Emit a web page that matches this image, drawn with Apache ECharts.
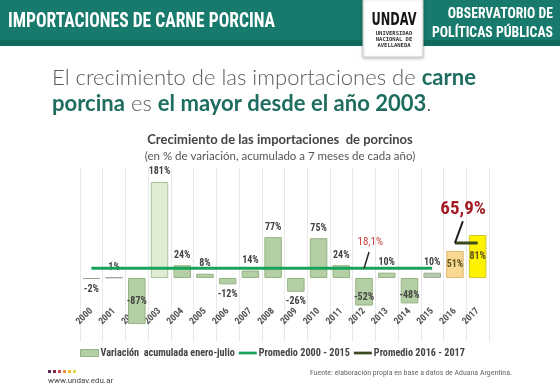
<!DOCTYPE html>
<html><head><meta charset="utf-8">
<script src="https://cdn.jsdelivr.net/npm/echarts@6/dist/echarts.min.js"></script>
<style>html,body{margin:0;padding:0;background:#fff}#c{width:560px;height:390px}</style>
</head><body><div id="c"></div>
<script>
// ---- data ----
const years = ['2000','2001','2002','2003','2004','2005','2006','2007','2008','2009','2010','2011','2012','2013','2014','2015','2016','2017'];
const variacion = [-2, 1, -87, 181, 24, 8, -12, 14, 77, -26, 75, 24, -52, 10, -48, 10, 51, 81];
const promedio2000_2015 = [18.1,18.1,18.1,18.1,18.1,18.1,18.1,18.1,18.1,18.1,18.1,18.1,18.1,18.1,18.1,18.1,null,null];
const promedio2016_2017 = [null,null,null,null,null,null,null,null,null,null,null,null,null,null,null,null,65.9,65.9];
const seriesNames = ['Variación  acumulada enero-julio', 'Promedio 2000 - 2015', 'Promedio 2016 - 2017'];
const avgLabels = ['18,1%', '65,9%'];

// ---- styling ----
const COND = "'Roboto Condensed','Liberation Sans Narrow',Roboto,sans-serif";
const cv = document.createElement('canvas').getContext('2d');
function measure(txt, font){ cv.font = font; return cv.measureText(txt).width; }
function fitScale(txt, font, target){ return target / measure(txt, font); }

const GREEN = '#17a45a', DARK = '#3a4a1e', BAR = '#b5cfa4', BAR_B = '#95b384';
function barStyle(i, v){
  const y = years[i];
  if (y === '2017') return {color:'#fff200', borderColor:'#cfc52a', borderWidth:1};
  if (y === '2016') return {color:'#f9d893', borderColor:'#dcb870', borderWidth:1};
  if (y === '2003') return {color:'#e1ecd4', borderColor:'#a8c299', borderWidth:1};
  if (y === '2000' || y === '2001') return {color:'#c9cfc5', borderColor:'#9aa394', borderWidth:1};
  if (y === '2015') return {color:'#bac8b1', borderColor:'#9fb094', borderWidth:1};
  return {color:BAR, borderColor:BAR_B, borderWidth:1};
}
function labelStyle(i, v){
  const y = years[i];
  if (y === '2016' || y === '2017') return {position:'inside', color:'#5e5219'};
  if (v >= 0) return {position:'top', distance:5};
  if (v <= -80) return {position:'inside'};
  if (v <= -40) return {position:'insideBottom', distance:3};
  return {position:'bottom', distance:5};
}

const barData = variacion.map((v, i) => ({
  value: v,
  itemStyle: barStyle(i, v),
  label: labelStyle(i, v)
}));

const chart = echarts.init(document.getElementById('c'), null, {renderer:'canvas'});

const titleFont = "bold 20px " + COND;
const titleTxt = 'IMPORTACIONES DE CARNE PORCINA';
const obsFont = "bold 14px " + COND;
const headLight = "300 22px Lato, 'Open Sans', sans-serif";
const headBold = "bold 22px Lato, 'Open Sans', sans-serif";
const l1w = measure('El crecimiento de las importaciones de ', headLight) + measure('carne', headBold);
const headScale = 424 / l1w;
const srcTxt = 'Fuente: elaboración propia en base a datos de Aduana Argentina.';
const srcFont = "7px " + COND;

const dots = ['#5b2a5e','#8a2849','#d24a55','#ef8f3a','#f4c21f','#e3d64a'];

const baseGraphics = [
  {type:'rect', id:'hdr', shape:{x:0,y:0,width:560,height:40}, style:{fill:'#177a6c'}, silent:true},
  {type:'rect', id:'hdr2', shape:{x:0,y:40,width:560,height:6}, style:{fill:'#0f6a5e'}, silent:true},
  {type:'text', id:'hdrTitle', x:8, y:22, scaleX: fitScale(titleTxt, titleFont, 267),
    style:{text:titleTxt, font:titleFont, fill:'#ffffff', verticalAlign:'middle', align:'left'}},
  {type:'text', id:'obs', x:553, y:24, scaleX: fitScale('POLÍTICAS PÚBLICAS', obsFont, 121),
    style:{text:'OBSERVATORIO DE\nPOLÍTICAS PÚBLICAS', font:obsFont, lineHeight:19, fill:'#ffffff', align:'right', verticalAlign:'middle'}},
  {type:'rect', id:'logoBox', shape:{x:363,y:-2,width:60,height:59}, style:{fill:'#ffffff', stroke:'#d0d0d0', lineWidth:1, shadowBlur:3, shadowColor:'rgba(0,0,0,0.25)', shadowOffsetY:1}},
  {type:'text', id:'logo', x:394, y:21, scaleX: 45/measure('UNDAV', "bold 17px 'DejaVu Sans'"),
    style:{text:'UNDAV', font:"bold 17px 'DejaVu Sans'", fill:'#151515', align:'center', verticalAlign:'middle'}},
  {type:'text', id:'logoSub', x:394, y:40,
    style:{text:'UNIVERSIDAD\nNACIONAL DE\nAVELLANEDA', font:"bold 5.5px 'DejaVu Sans Mono'", lineHeight:6, fill:'#333', align:'center', verticalAlign:'middle'}},
  {type:'text', id:'headline', x:52, y:91, scaleX: headScale,
    style:{text:'{l|El crecimiento de las importaciones de }{b|carne}\n{b|porcina}{l| es }{b|el mayor desde el año 2003}{l|.}',
      verticalAlign:'middle', align:'left',
      rich:{
        l:{fontFamily:"Lato, 'Open Sans', sans-serif", fontWeight:300, fontSize:22, fill:'#5a5a5a', lineHeight:26},
        b:{fontFamily:"Lato, 'Open Sans', sans-serif", fontWeight:'bold', fontSize:22, fill:'#1f6d61', lineHeight:26}
      }}},
  {type:'text', id:'www', x:48, y:381,
    style:{text:'www.undav.edu.ar', font:"8px Roboto, sans-serif", fill:'#444', align:'left', verticalAlign:'middle'}},
  {type:'text', id:'src', x:512, y:373, scaleX: fitScale(srcTxt, srcFont, 202),
    style:{text:srcTxt, font:srcFont, fill:'#666', align:'right', verticalAlign:'middle'}}
].concat(dots.map((c, i) => ({type:'rect', id:'dot'+i, shape:{x:48+i*5, y:370, width:3, height:3}, style:{fill:c}})));

const lineIcon = 'path://M0,0 H20 V3 H0 Z';

const option = {
  backgroundColor:'#ffffff',
  animation:false,
  title:{
    text:'Crecimiento de las importaciones  de porcinos',
    subtext:'(en % de variación, acumulado a 7 meses de cada año)',
    left:'center', top:128, itemGap:4,
    textStyle:{fontFamily:"Lato, 'Open Sans', sans-serif", fontWeight:'bold', fontSize:13, color:'#444'},
    subtextStyle:{fontFamily:"Lato, 'Open Sans', sans-serif", fontSize:11.5, color:'#555'}
  },
  grid:{left:80, right:71, top:168.2, height:173.4, containLabel:false},
  legend:{
    left:75, right:0, top:343, itemWidth:18, itemHeight:7, itemGap:4,
    textStyle:{fontFamily:COND, fontWeight:'bold', fontSize:10.2, color:'#444', padding:[0,0,0,-3]},
    data:[
      {name:seriesNames[0], icon:'rect', itemStyle:{color:BAR, borderColor:BAR_B, borderWidth:1}},
      {name:seriesNames[1], icon:lineIcon, itemStyle:{color:GREEN}},
      {name:seriesNames[2], icon:lineIcon, itemStyle:{color:DARK}}
    ]
  },
  xAxis:{
    type:'category', data:years,
    axisLine:{show:false}, axisTick:{show:false},
    splitLine:{show:true, lineStyle:{color:'#e8e8e8', width:1}},
    axisLabel:{interval:0, rotate:45, margin:-32, fontFamily:COND, fontWeight:'bold', fontSize:9.5, color:'#555'}
  },
  yAxis:{type:'value', min:-120, max:207, show:false, splitLine:{show:false}},
  series:[
    {name:seriesNames[0], type:'bar', data:barData, barWidth:'77%', itemStyle:{color:BAR},
     label:{show:true, formatter:'{c}%', fontFamily:COND, fontWeight:'bold', fontSize:10, color:'#444'}},
    {name:seriesNames[1], type:'line', data:promedio2000_2015, symbol:'none', z:5,
     lineStyle:{color:GREEN, width:3}, itemStyle:{color:GREEN}},
    {name:seriesNames[2], type:'line', data:promedio2016_2017, symbol:'none', z:5,
     lineStyle:{color:DARK, width:3}, itemStyle:{color:DARK}}
  ],
  graphic: baseGraphics
};
chart.setOption(option);

// annotations placed through the chart's own scales
const px = (i, v) => chart.convertToPixel({gridIndex:0}, [i, v]);
const band = px(1, 0)[0] - px(0, 0)[0];
const at = (i, frac, v) => { const p = px(i, v); return [p[0] + frac * band, p[1]]; };
const i12 = years.indexOf('2012'), i16 = years.indexOf('2016');
const a0 = at(i12, 0, promedio2000_2015[i12]), a1 = at(i12, 0.22, 49), aT = at(i12, 0.27, 68);
const b0 = at(i16, 0, promedio2016_2017[i16]), b1 = at(i16, 0.35, 107), bT = at(i16, 0.36, 130);
chart.setOption({graphic: baseGraphics.concat([
  {type:'line', id:'ann1', shape:{x1:a0[0], y1:a0[1], x2:a1[0], y2:a1[1]}, style:{stroke:'#222', lineWidth:1.5}, z:10},
  {type:'text', id:'ann1t', x:aT[0], y:aT[1], z:10, style:{text:avgLabels[0], font:"11px " + COND, fill:'#c83a3a', align:'center', verticalAlign:'middle'}},
  {type:'line', id:'ann2', shape:{x1:b0[0], y1:b0[1], x2:b1[0], y2:b1[1]}, style:{stroke:'#1a1a1a', lineWidth:2}, z:10},
  {type:'text', id:'ann2t', x:bT[0], y:bT[1], z:10, style:{text:avgLabels[1], font:"bold 19px " + COND, fill:'#a31d24', align:'center', verticalAlign:'middle'}}
])});
</script>
</body></html>
